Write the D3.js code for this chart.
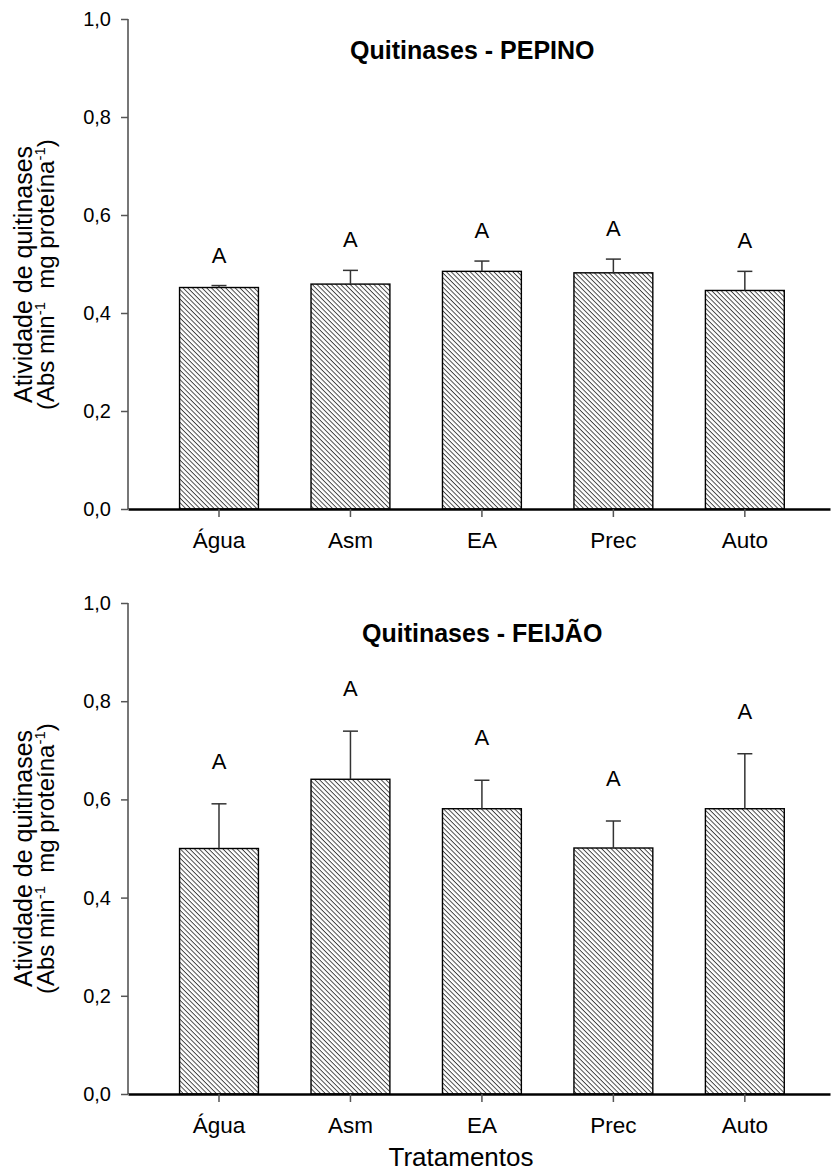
<!DOCTYPE html>
<html>
<head>
<meta charset="utf-8">
<script src="https://cdn.jsdelivr.net/npm/d3@7"></script>
<style>
  html, body { margin: 0; padding: 0; background: #fff; }
  svg { display: block; }
  text { font-family: Arial, "Liberation Sans", Helvetica, sans-serif; fill: #000; }
</style>
</head>
<body>
<svg id="chart" width="831" height="1172"></svg>
<script>
// Treatments on the x axis
const categories = ["Água", "Asm", "EA", "Prec", "Auto"];

// Chitinase activity, cucumber (PEPINO): means and standard errors
const pepinoMeans = [0.452, 0.459, 0.485, 0.482, 0.446];
const pepinoErr   = [0.004, 0.028, 0.021, 0.028, 0.039];
const pepinoLetters = ["A", "A", "A", "A", "A"];

// Chitinase activity, bean (FEIJÃO): means and standard errors
const feijaoMeans = [0.500, 0.641, 0.581, 0.501, 0.581];
const feijaoErr   = [0.091, 0.098, 0.058, 0.055, 0.112];
const feijaoLetters = ["A", "A", "A", "A", "A"];

// Y axis ticks
const yTicks = [0, 0.2, 0.4, 0.6, 0.8, 1.0];

const svg = d3.select("#chart");

// Brazilian-style decimal comma
const ptFormat = d3.formatLocale({ decimal: ",", thousands: ".", grouping: [3], currency: ["R$", ""] }).format(".1f");

// Diagonal hatch fill for the bars
const defs = svg.append("defs");
defs.append("pattern")
  .attr("id", "hatch")
  .attr("patternUnits", "userSpaceOnUse")
  .attr("width", 3.35)
  .attr("height", 3.35)
  .attr("patternTransform", "rotate(45)")
  .append("line")
  .attr("x1", -1).attr("y1", 0.5)
  .attr("x2", 5).attr("y2", 0.5)
  .attr("stroke", "#000")
  .attr("stroke-width", 0.7);

const x = d3.scaleBand()
  .domain(categories)
  .range([128, 830])
  .paddingInner(0.4)
  .paddingOuter(0.37)
  .align(0.53);

function drawPanel(cfg) {
  const y = d3.scaleLinear().domain([0, 1]).range([cfg.bottom, cfg.top]);
  const g = svg.append("g");
  const rows = categories.map((c, i) => ({ c, m: cfg.means[i], e: cfg.err[i], l: cfg.letters[i] }));

  // Bars
  g.selectAll("rect.bar").data(rows).join("rect")
    .attr("class", "bar")
    .attr("x", d => x(d.c))
    .attr("width", x.bandwidth())
    .attr("y", d => y(d.m))
    .attr("height", d => y(0) - y(d.m))
    .attr("fill", "url(#hatch)")
    .attr("stroke", "#000")
    .attr("stroke-width", 1.4);

  // Upper error bars
  const cx = d => x(d.c) + x.bandwidth() / 2;
  g.selectAll("line.err").data(rows).join("line")
    .attr("class", "err")
    .attr("x1", cx).attr("x2", cx)
    .attr("y1", d => y(d.m)).attr("y2", d => y(d.m + d.e))
    .attr("stroke", "#333").attr("stroke-width", 1.5);
  g.selectAll("line.cap").data(rows).join("line")
    .attr("class", "cap")
    .attr("x1", d => cx(d) - 7.5).attr("x2", d => cx(d) + 7.5)
    .attr("y1", d => y(d.m + d.e)).attr("y2", d => y(d.m + d.e))
    .attr("stroke", "#333").attr("stroke-width", 1.5);

  // Significance letters
  g.selectAll("text.letter").data(rows).join("text")
    .attr("class", "letter")
    .attr("x", cx)
    .attr("y", d => y(d.m + d.e) - cfg.letterGap)
    .attr("text-anchor", "middle")
    .style("font-size", "22px")
    .text(d => d.l);

  // Y axis
  const yAxis = g.append("g")
    .attr("transform", "translate(128,0)")
    .call(d3.axisLeft(y).tickValues(yTicks).tickFormat(ptFormat).tickSize(7).tickPadding(10));
  yAxis.select(".domain").attr("stroke", "#777").attr("stroke-width", 2).attr("d", `M0,${cfg.bottom}V${cfg.top}`);
  yAxis.selectAll(".tick line").attr("stroke", "#555").attr("stroke-width", 1.5);
  yAxis.selectAll(".tick text").style("font-size", "20px").style("font-family", "Arial, 'Liberation Sans', sans-serif").attr("fill", "#000");

  // X axis
  const xAxis = g.append("g")
    .attr("transform", `translate(0,${cfg.bottom})`)
    .call(d3.axisBottom(x).tickSize(8).tickPadding(15).tickSizeOuter(0));
  xAxis.select(".domain").attr("stroke", "#000").attr("stroke-width", 2.5);
  xAxis.selectAll(".tick line").attr("stroke", "#555").attr("stroke-width", 1.5);
  xAxis.selectAll(".tick text").style("font-size", "22.5px").style("font-family", "Arial, 'Liberation Sans', sans-serif").attr("fill", "#000");

  // Panel title
  g.append("text")
    .attr("x", cfg.titleX)
    .attr("y", cfg.top + cfg.titleDy)
    .style("font-size", "25px")
    .style("font-weight", "bold")
    .text(cfg.title);

  // Y axis title, two lines with superscripts, reading upwards
  const base = cfg.top + 384;
  const yt = g.append("text")
    .attr("transform", `translate(32,${base}) rotate(-90)`)
    .attr("text-anchor", "start")
    .style("font-size", "25px");
  yt.append("tspan").attr("x", 0).attr("y", 0).text("Atividade de quitinases");
  const l2 = g.append("text")
    .attr("transform", `translate(54,${base + 7}) rotate(-90)`)
    .attr("text-anchor", "start")
    .style("font-size", "24px")
    .style("white-space", "pre");
  l2.append("tspan").text("(Abs min");
  l2.append("tspan").attr("dy", -9).style("font-size", "15px").text("-1");
  l2.append("tspan").attr("dy", 9).text("  mg proteína");
  l2.append("tspan").attr("dy", -9).style("font-size", "15px").text("-1");
  l2.append("tspan").attr("dy", 9).text(")");
}

drawPanel({ top: 19, bottom: 509, means: pepinoMeans, err: pepinoErr, letters: pepinoLetters,
            letterGap: 23, title: "Quitinases - PEPINO", titleX: 350, titleDy: 40 });
drawPanel({ top: 603, bottom: 1094, means: feijaoMeans, err: feijaoErr, letters: feijaoLetters,
            letterGap: 35, title: "Quitinases - FEIJÃO", titleX: 362, titleDy: 39 });

// Shared x axis title
svg.append("text")
  .attr("x", 461)
  .attr("y", 1166)
  .attr("text-anchor", "middle")
  .style("font-size", "26px")
  .text("Tratamentos");
</script>
</body>
</html>
